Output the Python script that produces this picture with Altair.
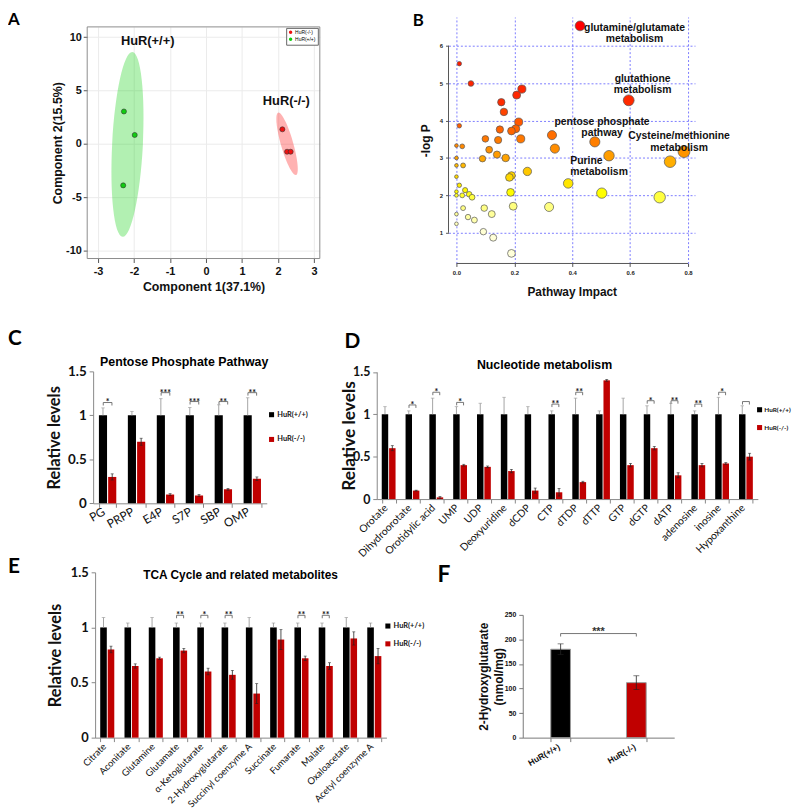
import altair as alt
import pandas as pd

# ======================= DATA =======================
GROUPS = ["HuR(+/+)", "HuR(-/-)"]

# --- A: PCA scores ---
pca_group = ["HuR(+/+)", "HuR(+/+)", "HuR(+/+)", "HuR(-/-)", "HuR(-/-)", "HuR(-/-)"]
pca_comp1 = [-2.28, -1.98, -2.30, 2.12, 2.25, 2.35]
pca_comp2 = [3.03, 0.83, -3.89, 1.36, -0.74, -0.74]
ellipse_comp1 = [-2.18, 2.25]
ellipse_comp2 = [-0.05, 0.0]
group_text = ["HuR(+/+)", "HuR(-/-)"]
group_text_c1 = [-1.62, 2.23]
group_text_c2 = [9.63, 4.03]
pca_x_ticks = [-3, -2, -1, 0, 1, 2, 3]
pca_y_ticks = [-10, -5, 0, 5, 10]

# --- B: pathway analysis ---
path_impact = [0.427, 0.595, 0.478, 0.786, 0.527, 0.738, 0.01, 0.05, 0.226, 0.208,
               0.155, 0.164, 0.01, 0.215, 0.15, 0.205, 0.19, 0.10, 0.144, 0.222,
               0.33, 0.0, 0.02, 0.113, 0.14, 0.34, 0.09, 0.17, 0.0, 0.0,
               0.023, 0.245, 0.19, 0.183, 0.0, 0.386, 0.01, 0.03, 0.0, 0.044,
               0.02, 0.0, 0.054, 0.187, 0.502, 0.702, 0.023, 0.096, 0.196, 0.32,
               0.0, 0.122, 0.04, 0.062, 0.0, 0.093, 0.127, 0.19]
path_logp = [6.53, 4.54, 3.43, 3.17, 3.06, 2.90, 5.52, 4.99, 4.84, 4.68,
             4.49, 4.23, 3.86, 3.96, 3.76, 3.78, 3.72, 3.51, 3.48, 3.51,
             3.61, 3.33, 3.31, 3.22, 3.09, 3.25, 2.98, 3.00, 3.00, 2.80,
             2.80, 2.64, 2.53, 2.48, 2.50, 2.32, 2.27, 2.14, 2.10, 2.03,
             2.00, 2.00, 1.95, 2.08, 2.06, 1.95, 1.66, 1.66, 1.71, 1.69,
             1.50, 1.50, 1.42, 1.34, 1.24, 1.03, 0.87, 0.45]
path_names = ["glutamine/glutamate\nmetabolism", "glutathione\nmetabolism",
              "pentose phosphate\npathway", "Cysteine/methionine\nmetabolism"]
path_name_impact = [0.615, 0.643, 0.503, 0.769]
path_name_logp = [6.48, 5.11, 3.96, 3.58]
purine_name = ["Purine\nmetabolism"]
purine_impact = [0.393]
purine_logp = [2.93]
impact_ticks = [0, 0.2, 0.4, 0.6, 0.8]
logp_ticks = [1, 2, 3, 4, 5, 6]

# --- C: pentose phosphate pathway ---
ppp_cats = ["PG", "PRPP", "E4P", "S7P", "SBP", "OMP"]
ppp_wt = [1, 1, 1, 1, 1, 1]
ppp_wt_top = [1.085, 1.045, 1.19, 1.09, 1.12, 1.20]
ppp_ko = [0.30, 0.70, 0.10, 0.09, 0.16, 0.28]
ppp_ko_err = [0.035, 0.04, 0.01, 0.01, 0.01, 0.02]
ppp_sig_cats = ["PG", "E4P", "S7P", "SBP", "OMP"]
ppp_sig_h = [1.146, 1.258, 1.157, 1.157, 1.258]
ppp_sig = ["*", "***", "***", "**", "**"]

# --- D: nucleotide metabolism ---
nuc_cats = ["Orotate", "Dihydroorotate", "Orotidylic acid", "UMP", "UDP", "Deoxyuridine",
            "dCDP", "CTP", "dTDP", "dTTP", "GTP", "dGTP", "dATP", "adenosine", "inosine",
            "Hypoxanthine"]
nuc_wt = [1] * 16
nuc_wt_top = [1.09, 1.04, 1.19, 1.09, 1.13, 1.20, 1.09, 1.04, 1.19, 1.04, 1.19, 1.10,
              1.13, 1.04, 1.20, 1.10]
nuc_ko = [0.60, 0.10, 0.02, 0.40, 0.38, 0.33, 0.10, 0.08, 0.20, 1.40, 0.40, 0.60,
          0.28, 0.40, 0.42, 0.50]
nuc_ko_err = [0.03, 0.005, 0.01, 0.01, 0.01, 0.02, 0.03, 0.045, 0.01, 0.01, 0.02, 0.02,
              0.03, 0.02, 0.01, 0.04]
nuc_sig_cats = ["Dihydroorotate", "Orotidylic acid", "UMP", "CTP", "dTDP", "dGTP", "dATP",
                "adenosine", "inosine", "Hypoxanthine"]
nuc_sig_h = [1.11, 1.26, 1.14, 1.12, 1.26, 1.16, 1.16, 1.12, 1.26, 1.15]
nuc_sig = ["*", "*", "*", "**", "**", "*", "**", "**", "*", ""]

# --- E: TCA cycle ---
tca_cats = ["Citrate", "Aconitate", "Glutamine", "Glutamate", "α-Ketoglutarate",
            "2-Hydroxyglutarate", "Succinyl coenzyme A", "Succinate", "Fumarate", "Malate",
            "Oxaloacetate", "Acetyl coenzyme A"]
tca_wt = [1] * 12
tca_wt_top = [1.09, 1.04, 1.09, 1.04, 1.04, 1.04, 1.09, 1.04, 1.04, 1.04, 1.09, 1.04]
tca_ko = [0.80, 0.65, 0.72, 0.79, 0.60, 0.57, 0.40, 0.89, 0.72, 0.65, 0.90, 0.74]
tca_ko_err = [0.03, 0.02, 0.01, 0.02, 0.03, 0.04, 0.09, 0.09, 0.02, 0.03, 0.06, 0.07]
tca_sig_cats = ["Glutamate", "α-Ketoglutarate", "2-Hydroxyglutarate", "Fumarate", "Malate"]
tca_sig_h = [1.11, 1.11, 1.11, 1.11, 1.11]
tca_sig = ["**", "*", "**", "**", "**"]

# --- F: 2-hydroxyglutarate ---
hg_groups = ["HuR(+/+)", "HuR(-/-)"]
hg_values = [180, 112]
hg_err = [11, 14]
hg_sig_h = [212]
hg_sig = ["***"]
hg_ticks = [0, 50, 100, 150, 200, 250]

# ======================= LAYOUT / STYLE =======================
MARGIN = 8
VIEW_W, VIEW_H = 792, 801


def ix(v):
    return v - MARGIN


ARIAL = "Liberation Sans"
CALIBRI = "Lato"
BLACK, RED = "#000000", "#c00000"
ONE = pd.DataFrame({"k": [0]})
EXT = dict(minExtent=0, maxExtent=300)


def ellipse_path(ratio):
    k = 0.5523
    rx = ratio
    return (f"M0,-1 C{k*rx:.4f},-1 {rx:.4f},{-k:.4f} {rx:.4f},0 "
            f"C{rx:.4f},{k:.4f} {k*rx:.4f},1 0,1 "
            f"C{-k*rx:.4f},1 {-rx:.4f},{k:.4f} {-rx:.4f},0 "
            f"C{-rx:.4f},{-k:.4f} {-k*rx:.4f},-1 0,-1 Z")


units = []

# ----------------------- Panel A -----------------------
XR_A, YR_A = [ix(88), ix(323)], [ix(257), ix(23)]
XD_A, YD_A = [-3.30, 3.16], [-10.74, 10.95]
xsA = alt.Scale(domain=XD_A, range=XR_A, nice=False, zero=False)
ysA = alt.Scale(domain=YD_A, range=YR_A, nice=False, zero=False)
axA = dict(labelFont=ARIAL, labelFontWeight="bold", labelFontSize=11, labelColor="#111",
           titleFont=ARIAL, titleFontWeight="bold", titleFontSize=12.5, titleColor="#111",
           domain=False, tickColor="#555", tickSize=4, labelExpr="'' + datum.value", **EXT)
pca_df = pd.DataFrame({"group": pca_group, "c1": pca_comp1, "c2": pca_comp2})

units.append(alt.Chart(pca_df).mark_circle(opacity=0).encode(
    x=alt.X("c1:Q", scale=xsA,
            axis=alt.Axis(orient="top", offset=-YR_A[1], values=pca_x_ticks, grid=True,
                          gridColor="#ebebeb", labels=False, ticks=False, domain=False,
                          title=None)),
    y=alt.Y("c2:Q", scale=ysA, axis=None)))
units.append(alt.Chart(ONE).mark_rect(fillOpacity=0, stroke="#8c8c8c", strokeWidth=1).encode(
    x=alt.X(datum=XD_A[0], scale=xsA, axis=None), x2=alt.X2(datum=XD_A[1]),
    y=alt.Y(datum=YD_A[0], scale=ysA, axis=None), y2=alt.Y2(datum=YD_A[1])))
units.append(alt.Chart(pd.DataFrame({"c1": [ellipse_comp1[0]], "c2": [ellipse_comp2[0]]}))
             .mark_point(shape=ellipse_path(0.166), size=187 ** 2, angle=3, filled=True,
                         color="#00cc00", opacity=0.3, strokeWidth=0).encode(
    x=alt.X("c1:Q", scale=xsA, axis=None), y=alt.Y("c2:Q", scale=ysA, axis=None)))
units.append(alt.Chart(pd.DataFrame({"c1": [ellipse_comp1[1]], "c2": [ellipse_comp2[1]]}))
             .mark_point(shape=ellipse_path(0.19), size=65.5 ** 2, angle=344, filled=True,
                         color="#ff0000", opacity=0.3, strokeWidth=0).encode(
    x=alt.X("c1:Q", scale=xsA, axis=None), y=alt.Y("c2:Q", scale=ysA, axis=None)))
units.append(alt.Chart(pca_df).mark_circle(size=26, opacity=1, stroke="#333",
                                           strokeWidth=0.6).encode(
    x=alt.X("c1:Q", scale=xsA,
            axis=alt.Axis(values=pca_x_ticks, orient="bottom", offset=YR_A[0] - VIEW_H,
                          title="Component 1(37.1%)", labelPadding=3, titlePadding=4,
                          grid=False, **axA)),
    y=alt.Y("c2:Q", scale=ysA,
            axis=alt.Axis(values=pca_y_ticks, orient="left", offset=-XR_A[0],
                          title="Component 2(15.5%)", labelPadding=2, titlePadding=1,
                          grid=True, gridColor="#ebebeb", **axA)),
    color=alt.Color("group:N",
                    scale=alt.Scale(domain=["HuR(-/-)", "HuR(+/+)"], range=["#ee1111", "#11cc11"]),
                    legend=alt.Legend(title=None, orient="none", legendX=ix(289), legendY=ix(24),
                                      labelFont=ARIAL, labelFontSize=5, symbolSize=12,
                                      symbolType="circle", padding=2, strokeColor="#666",
                                      fillColor="white", rowPadding=1, labelOffset=2,
                                      symbolStrokeWidth=0))))
units.append(alt.Chart(pd.DataFrame({"t": group_text, "c1": group_text_c1, "c2": group_text_c2}))
             .mark_text(font=ARIAL, fontWeight="bold", fontSize=13, color="#111").encode(
    x=alt.X("c1:Q", scale=xsA, axis=None), y=alt.Y("c2:Q", scale=ysA, axis=None), text="t:N"))

# ----------------------- Panel B -----------------------
XR_B, YR_B = [ix(453), ix(702)], [ix(262), ix(13)]
XD_B, YD_B = [-0.0274, 0.824], [0.18, 6.767]
xsB = alt.Scale(domain=XD_B, range=XR_B, nice=False, zero=False)
ysB = alt.Scale(domain=YD_B, range=YR_B, nice=False, zero=False)
GRID_B = dict(gridColor="#5b5bff", gridDash=[2, 2], gridWidth=0.8)
axB = dict(labelFont=ARIAL, labelFontWeight="bold", labelFontSize=6, labelColor="#222",
           titleFont=ARIAL, titleFontWeight="bold", titleFontSize=12, titleColor="#111",
           domain=False, tickColor="#555", tickSize=3, **EXT)
path_df = pd.DataFrame({"impact": path_impact, "logp": path_logp})
units.append(alt.Chart(path_df).mark_circle(opacity=0).encode(
    x=alt.X("impact:Q", scale=xsB,
            axis=alt.Axis(orient="top", offset=-YR_B[1], values=impact_ticks, grid=True,
                          labels=False, ticks=False, domain=False, title=None, **GRID_B)),
    y=alt.Y("logp:Q", scale=ysB, axis=None)))
units.append(alt.Chart(ONE).mark_rule(color="#555", strokeWidth=1).encode(
    x=alt.X(datum=XD_B[0], scale=xsB, axis=None),
    y=alt.Y(datum=logp_ticks[0], scale=ysB, axis=None), y2=alt.Y2(datum=logp_ticks[-1])))
units.append(alt.Chart(ONE).mark_rule(color="#555", strokeWidth=1).encode(
    x=alt.X(datum=impact_ticks[0], scale=xsB, axis=None), x2=alt.X2(datum=impact_ticks[-1]),
    y=alt.Y(datum=YD_B[0], scale=ysB, axis=None)))
units.append(alt.Chart(path_df).mark_circle(opacity=1, stroke="#555", strokeWidth=0.7).encode(
    x=alt.X("impact:Q", scale=xsB,
            axis=alt.Axis(values=impact_ticks, format=".1f", orient="bottom",
                          offset=YR_B[0] - VIEW_H, title="Pathway Impact", labelPadding=3,
                          titlePadding=11, grid=False, **axB)),
    y=alt.Y("logp:Q", scale=ysB,
            axis=alt.Axis(values=logp_ticks, orient="left", offset=-XR_B[0], title="-log P",
                          labelPadding=3, titlePadding=7, grid=True, **GRID_B, **axB)),
    size=alt.Size("impact:Q", scale=alt.Scale(type="pow", exponent=0.7, domain=[0, 0.8],
                                              range=[14, 145]), legend=None),
    color=alt.Color("logp:Q", scale=alt.Scale(
        domain=[0.45, 1.0, 1.7, 2.05, 2.6, 3.1, 3.7, 4.5, 6.5],
        range=["#ffffff", "#ffffd8", "#ffff80", "#ffff00", "#ffcc00", "#ff9900", "#ff6600",
               "#ff2a00", "#ff0000"]), legend=None)))
units.append(alt.Chart(pd.DataFrame({"t": path_names, "x": path_name_impact, "y": path_name_logp}))
             .mark_text(font=ARIAL, fontWeight="bold", fontSize=10.5, lineBreak="\n",
                        align="center", baseline="middle", lineHeight=11.5, color="#111").encode(
    x=alt.X("x:Q", scale=xsB, axis=None), y=alt.Y("y:Q", scale=ysB, axis=None), text="t:N"))
units.append(alt.Chart(pd.DataFrame({"t": purine_name, "x": purine_impact, "y": purine_logp}))
             .mark_text(font=ARIAL, fontWeight="bold", fontSize=10.5, lineBreak="\n",
                        align="left", baseline="middle", lineHeight=11.5, color="#111").encode(
    x=alt.X("x:Q", scale=xsB, axis=None), y=alt.Y("y:Q", scale=ysB, axis=None), text="t:N"))


# ----------------------- Bar panels C, D, E -----------------------
def bar_panel(cats, wt, wt_top, ko, ko_err, sig_cats, sig_h, sig_txt, g):
    n = len(cats)
    xr, yr, ydom, pi = g["xr"], g["yr"], g["ydom"], g["pi"]
    step = (xr[1] - xr[0]) / n
    bw = step * (1 - pi)
    xs = alt.Scale(domain=cats, range=xr, paddingInner=pi, paddingOuter=pi / 2)
    xos = alt.Scale(domain=GROUPS, range=[0, bw], paddingInner=0.12)
    ys = alt.Scale(domain=ydom, range=yr, nice=False, zero=False)
    df = pd.DataFrame({
        "cat": list(cats) * 2,
        "grp": [GROUPS[0]] * n + [GROUPS[1]] * n,
        "val": list(wt) + list(ko),
        "lo": list(wt) + [v - e for v, e in zip(ko, ko_err)],
        "hi": list(wt_top) + [v + e for v, e in zip(ko, ko_err)],
    })
    xax = alt.Axis(title=None, orient="bottom", offset=yr[0] - VIEW_H, labelAngle=g["angle"],
                   labelAlign="right", labelBaseline="middle", labelFont=CALIBRI,
                   labelFontSize=g["xlab"], labelColor="#111", labelPadding=g["lpad"],
                   labelOffset=g["loff"], tickBand="extent", tickSize=4, tickColor="#888",
                   domainColor="#888", grid=False, labelOverlap=False, **EXT)
    yax = alt.Axis(title="Relative levels", orient="left", offset=-xr[0], values=g["yticks"],
                   labelExpr="'' + datum.value", labelFont=CALIBRI, labelFontWeight="bold",
                   labelFontSize=g["ylab"], labelColor="#111", titleFont=CALIBRI,
                   titleFontWeight="bold", titleFontSize=g["ytitle"], titleColor="#111",
                   titlePadding=g["tpad"], tickSize=4, tickColor="#888", domainColor="#888",
                   grid=False, labelPadding=3, **EXT)
    out = []
    out.append(alt.Chart(df).mark_bar().encode(
        x=alt.X("cat:N", scale=xs, axis=xax, sort=cats),
        xOffset=alt.XOffset("grp:N", scale=xos),
        y=alt.Y("val:Q", scale=ys, axis=yax), y2=alt.Y2(datum=0),
        color=alt.Color("grp:N", scale=alt.Scale(domain=GROUPS, range=[BLACK, RED]),
                        legend=alt.Legend(title=None, orient="none", legendX=g["legx"],
                                          legendY=g["legy"], symbolType="square",
                                          symbolSize=26, symbolStrokeWidth=0,
                                          labelFont=CALIBRI, labelFontWeight="bold",
                                          labelFontSize=g["legfs"], labelColor="#111",
                                          rowPadding=g["legrow"], padding=0,
                                          labelOffset=g.get("legoff", 2)))))

    def enc():
        return dict(x=alt.X("cat:N", scale=xs, axis=None),
                    xOffset=alt.XOffset("grp:N", scale=xos))

    wt_only = alt.datum.grp == GROUPS[0]
    ko_only = alt.datum.grp == GROUPS[1]
    out.append(alt.Chart(df).transform_filter(wt_only).mark_rule(
        color="#9a9a9a", strokeWidth=0.9).encode(
        y=alt.Y("lo:Q", scale=ys, axis=None), y2="hi:Q", **enc()))
    out.append(alt.Chart(df).transform_filter(wt_only).mark_tick(
        color="#9a9a9a", orient="horizontal", size=3.5, thickness=0.9).encode(
        y=alt.Y("hi:Q", scale=ys, axis=None), **enc()))
    out.append(alt.Chart(df).transform_filter(ko_only).mark_rule(
        color="#222", strokeWidth=0.8).encode(
        y=alt.Y("lo:Q", scale=ys, axis=None), y2="hi:Q", **enc()))
    for fld in ["hi", "lo"]:
        out.append(alt.Chart(df).transform_filter(ko_only).mark_tick(
            color="#222", orient="horizontal", size=3, thickness=0.8).encode(
            y=alt.Y(f"{fld}:Q", scale=ys, axis=None), **enc()))
    d = 3 * (ydom[1] - ydom[0]) / (yr[0] - yr[1])
    rows = []
    for c, h in zip(sig_cats, sig_h):
        rows += [dict(cat=c, grp=GROUPS[0], y=h - d, o=0), dict(cat=c, grp=GROUPS[0], y=h, o=1),
                 dict(cat=c, grp=GROUPS[1], y=h, o=2), dict(cat=c, grp=GROUPS[1], y=h - d, o=3)]
    out.append(alt.Chart(pd.DataFrame(rows)).mark_line(color="#666", strokeWidth=0.9).encode(
        y=alt.Y("y:Q", scale=ys, axis=None), detail="cat:N", order="o:Q", **enc()))
    out.append(alt.Chart(pd.DataFrame({"cat": sig_cats, "h": sig_h, "t": sig_txt})).mark_text(
        font=CALIBRI, fontWeight="bold", fontSize=9, baseline="alphabetic", dy=3,
        color="#111").encode(
        x=alt.X("cat:N", scale=xs, axis=None), y=alt.Y("h:Q", scale=ys, axis=None), text="t:N"))
    return out


units += bar_panel(ppp_cats, ppp_wt, ppp_wt_top, ppp_ko, ppp_ko_err, ppp_sig_cats, ppp_sig_h,
                   ppp_sig, dict(xr=[ix(94), ix(269.4)], yr=[ix(504.3), ix(371)],
                                 ydom=[0, 1.5], pi=0.40, yticks=[0, 0.5, 1, 1.5], angle=-30,
                                 xlab=12, lpad=3, loff=-4, ylab=13.5, ytitle=16.5, tpad=5,
                                 legx=ix(270.5), legy=ix(411), legrow=16, legfs=7.5))
units += bar_panel(nuc_cats, nuc_wt, nuc_wt_top, nuc_ko, nuc_ko_err, nuc_sig_cats, nuc_sig_h,
                   nuc_sig, dict(xr=[ix(380.5), ix(765.5)], yr=[ix(500), ix(371.5)],
                                 ydom=[0, 1.5], pi=0.42, yticks=[0, 0.5, 1, 1.5], angle=-45,
                                 xlab=10.5, lpad=3, loff=-3, ylab=12.5, ytitle=17.5, tpad=-6,
                                 legx=ix(764), legy=ix(406.5), legrow=11, legfs=6.5,
                                 legoff=1.5))
units += bar_panel(tca_cats, tca_wt, tca_wt_top, tca_ko, tca_ko_err, tca_sig_cats, tca_sig_h,
                   tca_sig, dict(xr=[ix(96), ix(390.3)], yr=[ix(741), ix(574)],
                                 ydom=[0, 1.5], pi=0.42, yticks=[0, 0.5, 1, 1.5], angle=-45,
                                 xlab=9.5, lpad=3, loff=-3, ylab=13, ytitle=16.5, tpad=7,
                                 legx=ix(388), legy=ix(624.5), legrow=9, legfs=7.5))

# ----------------------- Panel F -----------------------
XR_F, YR_F = [ix(528), ix(681)], [ix(741), ix(617)]
YD_F = [0, 250]
xsF = alt.Scale(domain=hg_groups, range=XR_F, paddingInner=0.74, paddingOuter=0.37)
ysF = alt.Scale(domain=YD_F, range=YR_F, nice=False, zero=False)
hg_df = pd.DataFrame({"grp": hg_groups, "val": hg_values,
                      "lo": [v - e for v, e in zip(hg_values, hg_err)],
                      "hi": [v + e for v, e in zip(hg_values, hg_err)]})
units.append(alt.Chart(hg_df).mark_bar(stroke="#9a9a9a", strokeWidth=1).encode(
    x=alt.X("grp:N", scale=xsF, sort=hg_groups,
            axis=alt.Axis(title=None, orient="bottom", offset=YR_F[0] - VIEW_H, labelAngle=-30,
                          labelAlign="right", labelBaseline="middle", labelFont=ARIAL,
                          labelFontWeight="bold", labelFontSize=8.5, labelColor="#111",
                          labelPadding=4, labelOffset=-2, tickBand="extent", tickSize=4,
                          tickColor="#777", domainColor="#777", **EXT)),
    y=alt.Y("val:Q", scale=ysF,
            axis=alt.Axis(title=["2-Hydroxyglutarate", "(nmol/mg)"], orient="left",
                          offset=-XR_F[0], values=hg_ticks, labelFont=ARIAL,
                          labelFontWeight="bold", labelFontSize=7, labelColor="#111",
                          titleFont=ARIAL, titleFontWeight="bold", titleFontSize=12,
                          titleColor="#111", titlePadding=-1, titleLineHeight=15, tickSize=4,
                          tickColor="#777", domainColor="#777", grid=False, labelPadding=3,
                          **EXT)),
    y2=alt.Y2(datum=0),
    color=alt.Color("grp:N", scale=alt.Scale(domain=hg_groups, range=[BLACK, RED]),
                    legend=None)))
units.append(alt.Chart(hg_df).mark_rule(color="#222", strokeWidth=0.8).encode(
    x=alt.X("grp:N", scale=xsF, axis=None), y=alt.Y("lo:Q", scale=ysF, axis=None), y2="hi:Q"))
for fld in ["hi", "lo"]:
    units.append(alt.Chart(hg_df).mark_tick(color="#222", orient="horizontal", size=6,
                                            thickness=0.8).encode(
        x=alt.X("grp:N", scale=xsF, axis=None), y=alt.Y(f"{fld}:Q", scale=ysF, axis=None)))
dF = 3 * (YD_F[1] - YD_F[0]) / (YR_F[0] - YR_F[1])
f_br_df = pd.DataFrame({"grp": [hg_groups[0], hg_groups[0], hg_groups[1], hg_groups[1]],
                        "y": [hg_sig_h[0] - dF, hg_sig_h[0], hg_sig_h[0], hg_sig_h[0] - dF],
                        "o": [0, 1, 2, 3]})
units.append(alt.Chart(f_br_df).mark_line(color="#666", strokeWidth=0.9).encode(
    x=alt.X("grp:N", scale=xsF, axis=None), y=alt.Y("y:Q", scale=ysF, axis=None), order="o:Q"))
units.append(alt.Chart(pd.DataFrame({"t": hg_sig, "h": hg_sig_h})).mark_text(
    font=ARIAL, fontWeight="bold", fontSize=11, baseline="alphabetic", dy=1,
    color="#333").encode(
    x=alt.value((XR_F[0] + XR_F[1]) / 2), y=alt.Y("h:Q", scale=ysF, axis=None), text="t:N"))


# ----------------------- titles and panel letters -----------------------
def label(text, x, y, size, font, align="center", baseline="middle"):
    return alt.Chart(pd.DataFrame({"t": [text]})).mark_text(
        align=align, baseline=baseline, font=font, fontSize=size, fontWeight="bold",
        color="#000").encode(x=alt.value(x), y=alt.value(y), text="t:N")


units += [
    label("A", 0, ix(21), 17, CALIBRI, align="left", baseline="alphabetic"),
    label("B", ix(417), ix(22), 17, CALIBRI, align="left", baseline="alphabetic"),
    label("C", 0, ix(344), 21, CALIBRI, align="left", baseline="alphabetic"),
    label("D", ix(348), ix(347), 21, CALIBRI, align="left", baseline="alphabetic"),
    label("E", 0, ix(575), 21, CALIBRI, align="left", baseline="alphabetic"),
    label("F", ix(442), ix(584), 23, CALIBRI, align="left", baseline="alphabetic"),
    label("Pentose Phosphate Pathway", ix(186), ix(362), 12.5, ARIAL),
    label("Nucleotide metabolism", ix(550), ix(365), 12.5, ARIAL),
    label("TCA Cycle and related metabolites", ix(243), ix(577), 12, ARIAL),
]

chart = alt.layer(*units).resolve_scale(
    x="independent", y="independent", color="independent", size="independent",
    xOffset="independent").resolve_axis(x="independent", y="independent").resolve_legend(
    color="independent").properties(
    width=VIEW_W, height=VIEW_H, autosize=alt.AutoSizeParams(type="none"), padding=0,
    background="white").configure_view(strokeWidth=0)

chart.save("out.html", embed_options={"renderer": "svg", "actions": False})
